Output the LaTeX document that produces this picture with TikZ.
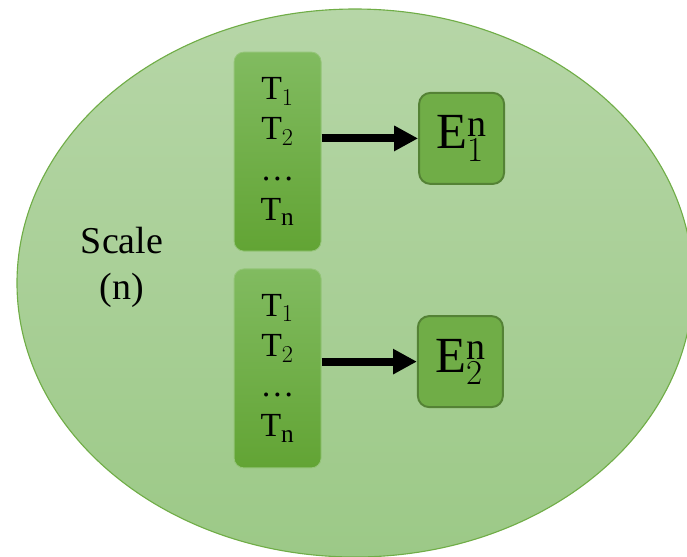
\documentclass[tikz,border=0pt]{standalone}
\usepackage{fontspec}
\setmainfont{Liberation Serif}
\usetikzlibrary{arrows.meta, positioning, shapes.geometric, backgrounds}
\DeclareMathSizes{24}{24}{18}{14}
\DeclareMathSizes{36}{36}{27}{20}
\definecolor{scaletop}  {RGB}{182, 214, 167}
\definecolor{scalebot}  {RGB}{156, 201, 135}
\definecolor{scaleline} {RGB}{112, 173,  71}
\definecolor{seqtop}    {RGB}{129, 187,  96}
\definecolor{seqbot}    {RGB}{ 98, 164,  52}
\definecolor{embfill}   {RGB}{112, 173,  71}
\definecolor{embline}   {RGB}{ 84, 130,  53}
\tikzset{
	scaleblob/.style={
		ellipse, draw=scaleline, line width=0.8pt,
		top color=scaletop, bottom color=scalebot,
		minimum width=16.9cm, minimum height=13.7cm
	},
	seqblock/.style={
		rectangle, rounded corners=7pt,
		minimum width=2.175cm, minimum height=4.975cm,
		align=center, draw=seqtop!85!white, line width=0.6pt,
		top color=seqtop, bottom color=seqbot,
		font=\fontsize{24}{28.5}\selectfont
	},
	embblock/.style={
		rectangle, rounded corners=8pt,
		minimum width=2.125cm, minimum height=2.275cm,
		draw=embline, fill=embfill, line width=1.4pt,
		font=\fontsize{36}{40}\selectfont
	},
	arrow/.style={
		-{Triangle[length=17pt, width=17pt]}, line width=5.6pt, color=black
	}
}

\begin{document}
\begin{tikzpicture}
		\useasboundingbox (0,0) rectangle (17.175,-13.9);
		
		%% ═══════════════════════════════
		%%  SCALE ELLIPSE
		%% ═══════════════════════════════
		\node[scaleblob] (scale) at (8.875,-7.075) {};
		\node[align=center, font=\fontsize{27}{33}\selectfont]
		(scalelbl) at (3.05,-6.68) {Scale\\(n)};
		
		%% ═══════════════════════════════
		%%  SEQUENCES
		%% ═══════════════════════════════
		\node[seqblock] (seq1) at (6.94,-3.79)
		{$\mathrm{T}_{1}$\\ $\mathrm{T}_{2}$\\ \ldots\\ $\mathrm{T}_{\mathrm{n}}$};
		\node[seqblock] (seq2) at (6.94,-9.21)
		{$\mathrm{T}_{1}$\\ $\mathrm{T}_{2}$\\ \ldots\\ $\mathrm{T}_{\mathrm{n}}$};
		
		%% ═══════════════════════════════
		%%  OUTPUTS
		%% ═══════════════════════════════
		\node[embblock] (emb1) at (11.54,-3.46) {$\mathrm{E}^{\mathrm{n}}_{1}$};
		\node[embblock] (emb2) at (11.51,-9.04) {$\mathrm{E}^{\mathrm{n}}_{2}$};
		
		%% ═══════════════════════════════
		%%  ARROWS
		%% ═══════════════════════════════
		\draw[arrow] (emb1.west -| seq1.east) -- (emb1.west);
		\draw[arrow] (emb2.west -| seq2.east) -- (emb2.west);
	\end{tikzpicture}
\end{document}
